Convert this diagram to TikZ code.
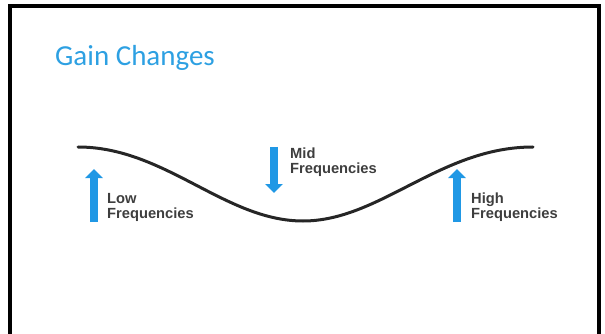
\documentclass[tikz,border=0pt]{standalone}
\usepackage{fontspec}
\setmainfont{Liberation Sans}
\newfontfamily\titlefont{Carlito}
\usepackage{xcolor}
\usepackage{tikz}
\usetikzlibrary{arrows.meta, positioning}
\definecolor{skyblue}{RGB}{32, 152, 229}
\definecolor{titleblue}{RGB}{45, 160, 226}
\definecolor{curvegray}{RGB}{38, 38, 38}
\definecolor{labelgray}{RGB}{62, 62, 62}

\begin{document}
\begin{tikzpicture}[x=1pt, y=-1pt,
    freqarrow/.style={line width=8pt, color=skyblue, -{Triangle[width=17pt, length=9pt]}},
    freqlabel/.style={font=\fontsize{14.7}{15.5}\selectfont\bfseries, color=labelgray, align=left, inner sep=0pt, anchor=base west}]
    \useasboundingbox (0, 0) rectangle (605, 334);
    % slide frame, open at the bottom
    \draw[line width=3.5pt] (10, 340) -- (10, 6) -- (599, 6) -- (599, 340);

    \node[anchor=base west, inner sep=0pt, color=titleblue, font=\titlefont\fontsize{29}{32}\selectfont] (title) at (55, 66) {Gain Changes};

    % gain curve
    \draw[line width=3pt, color=curvegray, line cap=round] (78, 147) .. controls (165, 147) and (225, 221) .. (303, 221)
        .. controls (380, 221) and (440, 147) .. (533, 147);

    % arrows
    \coordinate (lowbot) at (94, 222);   \coordinate (lowtop) at (94, 169);
    \coordinate (midtop) at (274, 147);  \coordinate (midtip) at (274, 193);
    \coordinate (highbot) at (457, 222); \coordinate (hightop) at (457, 169);
    \draw[freqarrow] (lowbot) -- (lowtop);
    \draw[freqarrow] (midtop) -- (midtip);
    \draw[freqarrow] (highbot) -- (hightop);

    % base anchor sits on the last line
    \node[freqlabel] (lowtxt) at (107, 218.5) {Low\\Frequencies};
    \node[freqlabel] (midtxt) at (290, 173.5) {Mid\\Frequencies};
    \node[freqlabel] (hightxt) at (471, 218.5) {High\\Frequencies};
\end{tikzpicture}
\end{document}
